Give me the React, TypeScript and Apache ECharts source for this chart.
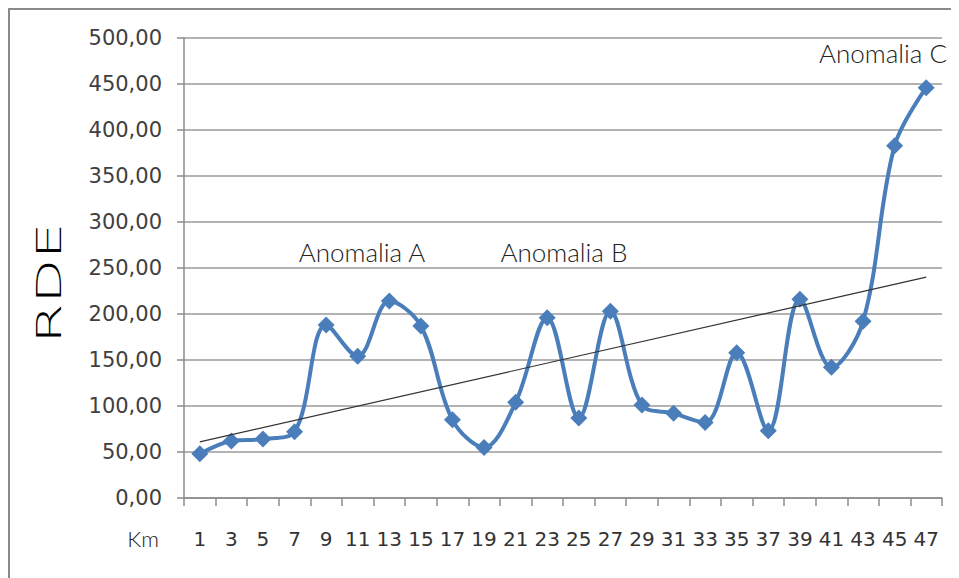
import React, { useEffect, useRef } from "react";
import * as echarts from "echarts";

const categories = ["1","3","5","7","9","11","13","15","17","19","21","23","25","27","29","31","33","35","37","39","41","43","45","47"];
const rdeValues = [48, 62, 64, 72, 188, 154, 214, 187, 85, 55, 104, 196, 87, 203, 101, 92, 82, 158, 73, 216, 142, 192, 383, 446];
const trendStart = 61;
const trendEnd = 240;
const yTicks = { min: 0, max: 500, interval: 50 };
const annotations = [
  { text: "Anomalia A", x: 354, y: 244 },
  { text: "Anomalia B", x: 556, y: 244 },
  { text: "Anomalia C", x: 875, y: 45 },
];

export default function App() {
  const ref = useRef<HTMLDivElement>(null);
  useEffect(() => {
    if (!ref.current) return;
    const chart = echarts.init(ref.current, null, { renderer: "svg" });
    const trend = categories.map((_, i) => (i === 0 ? trendStart : i === categories.length - 1 ? trendEnd : null));
    chart.setOption({
      animation: false,
      grid: { left: 176, right: 17, top: 30, bottom: 80 },
      xAxis: {
        type: "category",
        data: categories,
        boundaryGap: true,
        axisLine: { show: true, lineStyle: { color: "#8c8c8c", width: 1.5 } },
        axisTick: { show: true, length: 8, lineStyle: { color: "#8c8c8c", width: 1.5 } },
        axisLabel: { interval: 0, margin: 31, fontFamily: "DejaVu Sans", fontSize: 20, color: "#333" },
        splitLine: { show: false },
      },
      yAxis: {
        type: "value",
        min: yTicks.min,
        max: yTicks.max,
        interval: yTicks.interval,
        axisLine: { show: true, lineStyle: { color: "#8c8c8c", width: 1.5 } },
        axisTick: { show: true, length: 7, lineStyle: { color: "#8c8c8c", width: 1.5 } },
        axisLabel: {
          margin: 22,
          fontFamily: "DejaVu Sans",
          fontSize: 21,
          color: "#404040",
          formatter: (v: number) => v.toFixed(2).replace(".", ","),
        },
        splitLine: { show: true, lineStyle: { color: "#9a9a9a", width: 1.5 } },
      },
      series: [
        {
          type: "line",
          data: rdeValues,
          smooth: 0.35,
          symbol: "diamond",
          symbolSize: 17,
          lineStyle: { color: "#4a7ebb", width: 4 },
          itemStyle: { color: "#4a7ebb" },
          z: 3,
        },
        {
          type: "line",
          data: trend,
          connectNulls: true,
          symbol: "none",
          lineStyle: { color: "#333", width: 1.2 },
          z: 4,
        },
      ],
      graphic: [
        {
          type: "rect",
          shape: { x: 1, y: 1, width: 970, height: 600 },
          style: { fill: "none", stroke: "#8a8a8a", lineWidth: 2 },
          silent: true,
        },
        {
          type: "text",
          x: 41,
          y: 275,
          rotation: Math.PI / 2,
          scaleX: 1.75,
          style: {
            text: "RDE",
            fontFamily: "DejaVu Sans",
            fontWeight: 200,
            fontSize: 33,
            fill: "#000",
            align: "center",
            verticalAlign: "middle",
          },
        },
        {
          type: "text",
          x: 135,
          y: 530,
          style: { text: "Km", fontFamily: "Lato", fontWeight: 300, fontSize: 22, fill: "#222", align: "center", verticalAlign: "middle" },
        },
        ...annotations.map((a) => ({
          type: "text",
          x: a.x,
          y: a.y,
          style: { text: a.text, fontFamily: "Lato", fontWeight: 300, fontSize: 26, fill: "#222", align: "center", verticalAlign: "middle" },
        })),
      ],
    });
    return () => chart.dispose();
  }, []);
  return <div ref={ref} style={{ width: 951, height: 570 }} />;
}
